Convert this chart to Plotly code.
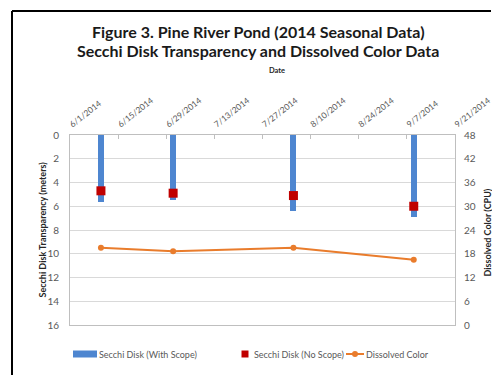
import plotly.graph_objects as go

# ---- data -------------------------------------------------------------
sample_dates = ["2014-06-10", "2014-07-01", "2014-08-05", "2014-09-09"]
secchi_with_scope = [5.6, 5.5, 6.4, 6.9]      # meters
secchi_no_scope = [4.7, 4.9, 5.1, 6.0]        # meters
dissolved_color = [19.5, 18.6, 19.5, 16.5]    # CPU

date_ticks = ["2014-06-01", "2014-06-15", "2014-06-29", "2014-07-13", "2014-07-27",
              "2014-08-10", "2014-08-24", "2014-09-07", "2014-09-21"]
date_tick_labels = ["6/1/2014", "6/15/2014", "6/29/2014", "7/13/2014", "7/27/2014",
                    "8/10/2014", "8/24/2014", "9/7/2014", "9/21/2014"]
depth_ticks = [0, 2, 4, 6, 8, 10, 12, 14, 16]
color_ticks = [0, 6, 12, 18, 24, 30, 36, 42, 48]

# ---- styling ----------------------------------------------------------
W, H = 492, 375
L, R, T, B = 70, 37, 135, 50
PW, PH = W - L - R, H - T - B
BLUE, RED, ORANGE = "#4E86D0", "#C00000", "#E97C2C"
GRID, AXIS, TXT = "#D9D9D9", "#BFBFBF", "#595959"
FONT = "Lato"
DAY_MS = 86400000


def px(x):
    return (x - L) / PW


def py(y):
    return (H - B - y) / PH


fig = go.Figure()

fig.add_trace(go.Bar(
    x=sample_dates, y=secchi_with_scope, width=1.75 * DAY_MS,
    marker=dict(color=BLUE, line=dict(width=0)),
    name="Secchi Disk (With Scope)", yaxis="y", showlegend=False,
))
fig.add_trace(go.Scatter(
    x=sample_dates, y=secchi_no_scope, mode="markers",
    marker=dict(symbol="square", size=9, color=RED),
    name="Secchi Disk (No Scope)", yaxis="y", showlegend=False,
))
fig.add_trace(go.Scatter(
    x=sample_dates, y=dissolved_color, mode="lines+markers",
    line=dict(color=ORANGE, width=2),
    marker=dict(symbol="circle", size=6, color=ORANGE),
    name="Dissolved Color", yaxis="y2", showlegend=False,
))

fig.update_layout(
    width=W, height=H,
    margin=dict(l=L, r=R, t=T, b=B, autoexpand=False),
    paper_bgcolor="white", plot_bgcolor="white",
    font=dict(family=FONT, size=10, color=TXT),
    bargap=0,
    xaxis=dict(
        type="date", side="top",
        range=[date_ticks[0], date_ticks[-1]],
        tickmode="array", tickvals=date_ticks, ticktext=date_tick_labels,
        tickangle=-38, tickfont=dict(size=8.5, color=TXT),
        ticks="inside", ticklen=4, tickcolor=AXIS,
        showgrid=False, showline=True, linecolor=AXIS, linewidth=1, mirror=True,
        ticklabelstandoff=2, ticklabeloverflow="allow", automargin=False,
    ),
    yaxis=dict(
        range=[16, 0], tickmode="array", tickvals=depth_ticks,
        tickfont=dict(size=10, color=TXT),
        showgrid=True, gridcolor=GRID, gridwidth=1,
        showline=True, linecolor=AXIS, linewidth=1, mirror=True,
        zeroline=False, ticks="", ticklabelstandoff=8, automargin=False,
    ),
    yaxis2=dict(
        overlaying="y", side="right",
        range=[0, 48], tickmode="array", tickvals=color_ticks,
        tickfont=dict(size=10, color=TXT),
        showgrid=False, zeroline=False, showline=False, ticks="",
        ticklabelstandoff=8, automargin=False,
    ),
)

annotations = [
    dict(x=px(258), y=py(31), text="<b>Figure 3. Pine River Pond (2014 Seasonal Data)</b>",
         font=dict(size=16, color="#1a1a1a", family=FONT)),
    dict(x=px(258), y=py(50.5), text="<b>Secchi Disk Transparency and Dissolved Color Data</b>",
         font=dict(size=16, color="#1a1a1a", family=FONT)),
    dict(x=px(277), y=py(70), text="<b>Date</b>", font=dict(size=7.5, color="#262626")),
    dict(x=px(41.5), y=py(230), text="<b>Secchi Disk Transparency (meters)</b>", textangle=-90,
         font=dict(size=9, color="#262626")),
    dict(x=px(486.5), y=py(233), text="<b>Dissolved Color (CPU)</b>", textangle=-90,
         font=dict(size=9, color="#262626")),
    # legend labels
    dict(x=px(97), y=py(354), text="Secchi Disk (With Scope)", xanchor="left",
         font=dict(size=9, color=TXT)),
    dict(x=px(252), y=py(354), text="Secchi Disk (No Scope)", xanchor="left",
         font=dict(size=9, color=TXT)),
    dict(x=px(364), y=py(354), text="Dissolved Color", xanchor="left",
         font=dict(size=9, color=TXT)),
]
for a in annotations:
    a.setdefault("xanchor", "center")
    a.update(xref="paper", yref="paper", yanchor="middle", showarrow=False)
fig.update_layout(annotations=annotations)

shapes = [
    # outer frame (top and left edges visible)
    dict(type="line", x0=px(12), x1=px(491), y0=py(11), y1=py(11),
         line=dict(color="black", width=2)),
    dict(type="line", x0=px(12), x1=px(12), y0=py(11), y1=py(380),
         line=dict(color="black", width=2)),
    # legend keys
    dict(type="rect", x0=px(73), x1=px(97), y0=py(350.5), y1=py(357.5),
         fillcolor=BLUE, line=dict(width=0)),
    dict(type="rect", x0=px(241.5), x1=px(248.5), y0=py(350.5), y1=py(357.5),
         fillcolor=RED, line=dict(width=0)),
    dict(type="line", x0=px(346), x1=px(364), y0=py(354), y1=py(354),
         line=dict(color=ORANGE, width=2)),
    dict(type="circle", x0=px(352), x1=px(358), y0=py(351), y1=py(357),
         fillcolor=ORANGE, line=dict(width=0)),
]
for s in shapes:
    s.update(xref="paper", yref="paper", layer="above")
fig.update_layout(shapes=shapes)

fig.write_html("out.html")
